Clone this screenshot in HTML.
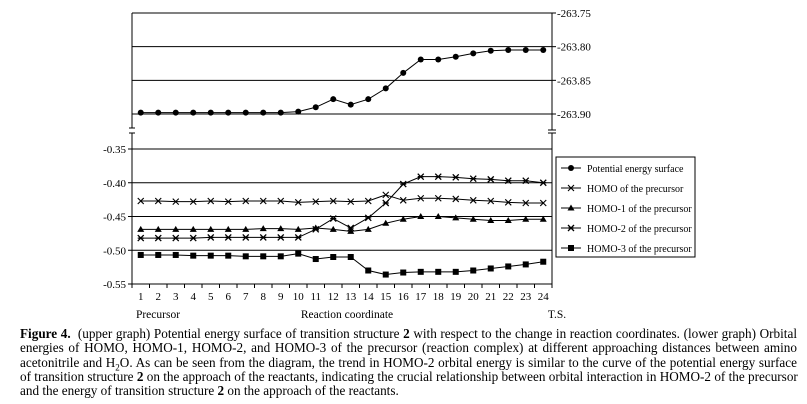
<!DOCTYPE html>
<html><head><meta charset="utf-8"><style>
html,body{margin:0;padding:0;background:#fff;}
body{width:807px;height:404px;overflow:hidden;position:relative;font-family:"Liberation Serif",serif;}
svg{position:absolute;left:0;top:0;}
#cap{position:absolute;left:20px;top:327px;width:777px;font-size:13.2px;line-height:14.3px;color:#000;}
#cap div{text-align:justify;text-align-last:justify;white-space:nowrap;}
#cap div.last{text-align-last:left;}
</style></head><body>
<svg id="chart" width="807" height="404" font-family="Liberation Serif, serif" font-size="11"></svg>
<div id="cap">
<div><b>Figure 4.</b>&nbsp; (upper graph) Potential energy surface of transition structure <b>2</b> with respect to the change in reaction coordinates. (lower graph) Orbital</div>
<div>energies of HOMO, HOMO-1, HOMO-2, and HOMO-3 of the precursor (reaction complex) at different approaching distances between amino</div>
<div>acetonitrile and H<sub style="font-size:9px;line-height:0">2</sub>O. As can be seen from the diagram, the trend in HOMO-2 orbital energy is similar to the curve of the potential energy surface</div>
<div>of transition structure <b>2</b> on the approach of the reactants, indicating the crucial relationship between orbital interaction in HOMO-2 of the precursor</div>
<div class="last">and the energy of transition structure <b>2</b> on the approach of the reactants.</div>
</div>
<script>
const categories=[1,2,3,4,5,6,7,8,9,10,11,12,13,14,15,16,17,18,19,20,21,22,23,24];
const pesValues=[-263.898,-263.898,-263.898,-263.898,-263.898,-263.898,-263.898,-263.898,-263.898,-263.8965,-263.890,-263.878,-263.886,-263.878,-263.862,-263.839,-263.819,-263.819,-263.815,-263.810,-263.806,-263.805,-263.805,-263.805];
const homo=[-0.427,-0.427,-0.428,-0.428,-0.427,-0.428,-0.427,-0.427,-0.427,-0.429,-0.428,-0.427,-0.428,-0.427,-0.418,-0.426,-0.423,-0.423,-0.424,-0.426,-0.427,-0.429,-0.430,-0.430];
const homo1=[-0.469,-0.469,-0.469,-0.469,-0.469,-0.469,-0.469,-0.468,-0.468,-0.469,-0.467,-0.469,-0.472,-0.469,-0.460,-0.454,-0.450,-0.450,-0.452,-0.454,-0.456,-0.456,-0.454,-0.454];
const homo2=[-0.482,-0.482,-0.482,-0.482,-0.481,-0.481,-0.481,-0.481,-0.481,-0.481,-0.469,-0.453,-0.467,-0.452,-0.430,-0.402,-0.391,-0.391,-0.392,-0.394,-0.395,-0.397,-0.397,-0.400];
const homo3=[-0.507,-0.507,-0.507,-0.508,-0.508,-0.508,-0.509,-0.509,-0.509,-0.505,-0.513,-0.510,-0.510,-0.530,-0.536,-0.533,-0.532,-0.532,-0.532,-0.530,-0.527,-0.524,-0.521,-0.517];
const upperTicks=[-263.75,-263.80,-263.85,-263.90];
const lowerTicks=[-0.35,-0.40,-0.45,-0.50,-0.55];
const legendLabels=["Potential energy surface","HOMO of the precursor","HOMO-1 of the precursor","HOMO-2 of the precursor","HOMO-3 of the precursor"];

const svg=document.getElementById('chart');
const NS='http://www.w3.org/2000/svg';
function mk(tag,attrs,parent){const e=document.createElementNS(NS,tag);for(const k in attrs)e.setAttribute(k,attrs[k]);(parent||svg).appendChild(e);return e;}
const L=132,R=552,band=(R-L)/24;
const x=i=>L+band*(i+0.5);
const yU=v=>13+(-263.75-v)/0.15*101;
const yL=v=>149+(-0.35-v)/0.20*135;

let g=mk('g',{});
mk('line',{x1:L,y1:13,x2:R,y2:13,stroke:'#000'},g);
mk('line',{x1:L,y1:13,x2:L,y2:128,stroke:'#000'},g);
mk('line',{x1:R,y1:13,x2:R,y2:130,stroke:'#000'},g);
mk('line',{x1:L-3,y1:128,x2:L+3,y2:128,stroke:'#000'},g);
mk('line',{x1:R-4,y1:130,x2:R+4,y2:130,stroke:'#000'},g);
upperTicks.forEach(t=>{
  const y=yU(t);
  if(t!==-263.75){const gl=mk('line',{x1:L,y1:y,x2:R,y2:y,stroke:'#000'});}
  mk('line',{x1:R,y1:y,x2:R+4,y2:y,stroke:'#000'});
  const tx=mk('text',{x:R+5,y:y+4});tx.textContent=t.toFixed(2);
  
  
});
g=mk('g',{});
mk('line',{x1:L,y1:133,x2:L,y2:284,stroke:'#000'},g);
mk('line',{x1:R,y1:133,x2:R,y2:284,stroke:'#000'},g);
mk('line',{x1:L-3,y1:133,x2:L+3,y2:133,stroke:'#000'},g);
mk('line',{x1:R-4,y1:133,x2:R+4,y2:133,stroke:'#000'},g);
mk('line',{x1:L,y1:284,x2:R,y2:284,stroke:'#000'},g);
lowerTicks.forEach(t=>{
  const y=yL(t);
  if(t!==-0.55){const gl=mk('line',{x1:L,y1:y,x2:R,y2:y,stroke:'#000'});}
  mk('line',{x1:L-4,y1:y,x2:L,y2:y,stroke:'#000'});
  const tx=mk('text',{x:L-6,y:y+4,'text-anchor':'end'});tx.textContent=t.toFixed(2);
  
  
});
for(let i=0;i<=24;i++)mk('line',{x1:L+band*i,y1:284,x2:L+band*i,y2:288,stroke:'#000'});
categories.forEach((c,i)=>{
  const tx=mk('text',{x:x(i),y:300,'text-anchor':'middle'});tx.textContent=c;
  
  
});
[["Precursor",158,"x-start-label"],["Reaction coordinate",347,"x-axis-title"],["T.S.",557,"x-end-label"]].forEach(a=>{
  const tx=mk('text',{x:a[1],y:318,'text-anchor':'middle','font-size':'11.5'});tx.textContent=a[0];
  
  
});

function marker(type,cx,cy,p){
  if(type==='circle')mk('circle',{cx:cx,cy:cy,r:3},p);
  else if(type==='x'){mk('path',{d:`M${cx-3} ${cy-3}L${cx+3} ${cy+3}M${cx-3} ${cy+3}L${cx+3} ${cy-3}`,stroke:'#000','stroke-width':1.1,fill:'none'},p);}
  else if(type==='tri')mk('path',{d:`M${cx} ${cy-3.5}L${cx+3.5} ${cy+2.5}L${cx-3.5} ${cy+2.5}Z`},p);
  else if(type==='star'){mk('path',{d:`M${cx-3} ${cy-3}L${cx+3} ${cy+3}M${cx-3} ${cy+3}L${cx+3} ${cy-3}M${cx-3} ${cy}L${cx+3} ${cy}`,stroke:'#000','stroke-width':1.3,fill:'none'},p);}
  else if(type==='sq')mk('rect',{x:cx-3,y:cy-3,width:6,height:6},p);
}
function series(vals,yf,type,name){
  const sg=mk('g',{});
  
  
  mk('polyline',{points:vals.map((v,i)=>x(i)+','+yf(v)).join(' '),fill:'none',stroke:'#000','stroke-width':1},sg);
  vals.forEach((v,i)=>marker(type,x(i),yf(v),sg));
}
series(pesValues,yU,'circle','pes-series');
series(homo,yL,'x','homo-series');
series(homo1,yL,'tri','homo1-series');
series(homo2,yL,'star','homo2-series');
series(homo3,yL,'sq','homo3-series');

const lg=mk('g',{});


mk('rect',{x:556,y:157,width:139,height:100,fill:'#fff',stroke:'#000'},lg);
const types=['circle','x','tri','star','sq'];
legendLabels.forEach((lab,i)=>{
  const y=168+i*20;
  const eg=mk('g',{},lg);
  
  
  mk('line',{x1:561,y1:y,x2:581,y2:y,stroke:'#000'},eg);
  marker(types[i],571,y,eg);
  const t=mk('text',{x:587,y:y+4,'font-size':'10'},eg);t.textContent=lab;
});
</script>
</body></html>
